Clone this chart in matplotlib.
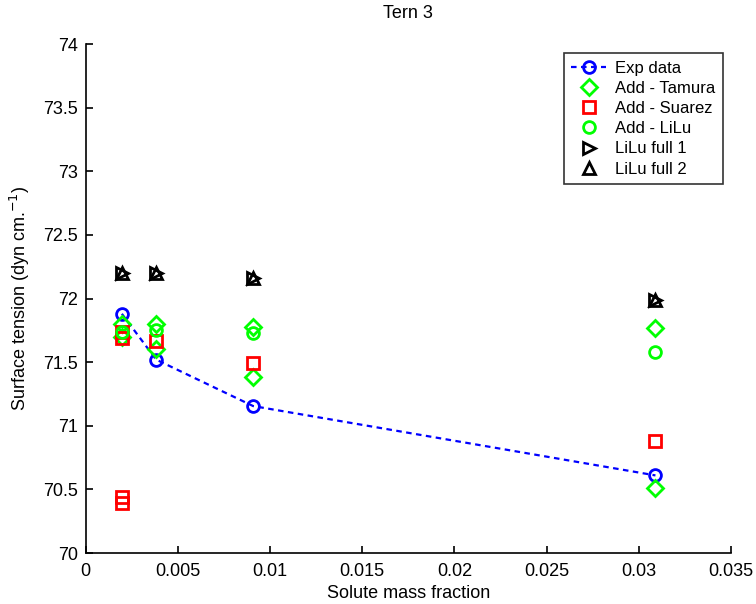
import matplotlib
matplotlib.use("Agg")
import matplotlib.pyplot as plt

plt.rcParams['font.family'] = ['Liberation Sans', 'DejaVu Sans']

# Experimental data
exp_x = [0.00196, 0.00382, 0.00908, 0.0309]
exp_y = [71.88, 71.52, 71.155, 70.61]

# Add - Tamura
tam_x = [0.00196, 0.00196, 0.00382, 0.00382, 0.00908, 0.00908, 0.0309, 0.0309]
tam_y = [71.80, 71.70, 71.80, 71.60, 71.78, 71.38, 71.77, 70.51]

# Add - Suarez
sua_x = [0.00196, 0.00196, 0.00196, 0.00196, 0.00382, 0.00908, 0.0309]
sua_y = [71.74, 71.69, 70.44, 70.39, 71.67, 71.49, 70.88]

# Add - LiLu
lil_x = [0.00196, 0.00382, 0.00908, 0.0309]
lil_y = [71.74, 71.75, 71.73, 71.58]

# LiLu full 1 / full 2
f1_x = [0.00196, 0.00382, 0.00908, 0.0309]
f1_y = [72.20, 72.20, 72.16, 71.99]
f2_x = [0.00196, 0.00382, 0.00908, 0.0309]
f2_y = [72.20, 72.20, 72.16, 71.99]

fig = plt.figure(figsize=(7.56, 6.04), dpi=100)
ax = fig.add_axes([0.1134, 0.0844, 0.8536, 0.8427])

ax.plot(exp_x, exp_y, '--o', color='blue', lw=1.6, ms=8.5, mfc='none', mew=2,
        dashes=(2.5, 2), label='Exp data')
ax.plot(tam_x, tam_y, 'D', color='#00ff00', ms=8, mfc='none', mew=2,
        ls='none', label='Add - Tamura')
ax.plot(sua_x, sua_y, 's', color='red', ms=9, mfc='none', mew=2,
        ls='none', label='Add - Suarez')
ax.plot(lil_x, lil_y, 'o', color='#00ff00', ms=8.5, mfc='none', mew=2,
        ls='none', label='Add - LiLu')
ax.plot(f1_x, f1_y, '>', color='black', ms=8.5, mfc='none', mew=2,
        ls='none', label='LiLu full 1')
ax.plot(f2_x, f2_y, '^', color='black', ms=8.5, mfc='none', mew=2,
        ls='none', label='LiLu full 2')

ax.set_xlim(0, 0.035)
ax.set_ylim(70, 74)
ax.set_xticks([0, 0.005, 0.01, 0.015, 0.02, 0.025, 0.03, 0.035])
ax.set_xticklabels(['0', '0.005', '0.01', '0.015', '0.02', '0.025', '0.03', '0.035'])
ax.set_yticks([70, 70.5, 71, 71.5, 72, 72.5, 73, 73.5, 74])
ax.set_yticklabels(['70', '70.5', '71', '71.5', '72', '72.5', '73', '73.5', '74'])
ax.tick_params(direction='in', length=5, width=1.2, labelsize=13, colors='black')
ax.tick_params(axis='x', pad=7)
ax.tick_params(axis='y', pad=5.5)
ax.spines['top'].set_visible(False)
ax.spines['right'].set_visible(False)
for s in ('left', 'bottom'):
    ax.spines[s].set_linewidth(1.2)

ax.set_xlabel('Solute mass fraction', fontsize=13, labelpad=4)
ax.set_ylabel('Surface tension (dyn cm.$^{-1}$)', fontsize=13, labelpad=8)
ax.set_title('Tern 3', fontsize=13, pad=19)

leg = ax.legend(loc='upper right', bbox_to_anchor=(0.9876, 0.982),
                borderaxespad=0, fontsize=12,
                frameon=True, fancybox=False, edgecolor='black',
                handlelength=2.1, handletextpad=0.55, borderpad=0.45,
                labelspacing=0.31)
leg.get_frame().set_linewidth(1.2)

fig.savefig('out.png', dpi=100)
